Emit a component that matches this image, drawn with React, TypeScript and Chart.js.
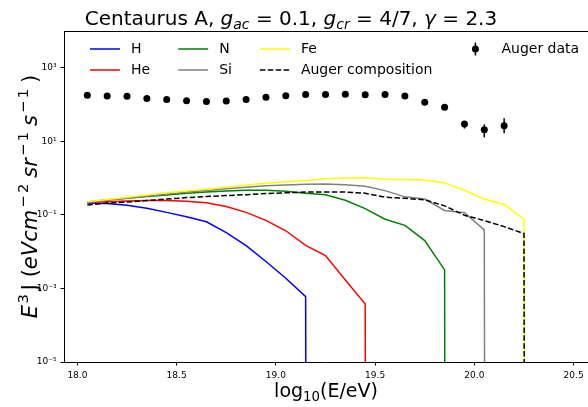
import React, { useEffect, useRef } from "react";
import { Chart, registerables } from "chart.js";

Chart.register(...registerables);

// ---- data ----
const binCenters = [
  18.05, 18.15, 18.25, 18.35, 18.45, 18.55, 18.65, 18.75, 18.85, 18.95,
  19.05, 19.15, 19.25, 19.35, 19.45, 19.55, 19.65, 19.75, 19.85, 19.95,
  20.05, 20.15, 20.25, 20.35, 20.45,
];

const hFlux = [
  0.209, 0.204, 0.182, 0.151, 0.117, 0.089, 0.065, 0.033, 0.0145, 0.0054,
  0.0019, 0.0006, 0, 0, 0, 0, 0, 0, 0, 0, 0, 0, 0, 0, 0,
];
const heFlux = [
  0.219, 0.229, 0.24, 0.245, 0.245, 0.234, 0.214, 0.17, 0.117, 0.071,
  0.037, 0.0148, 0.0078, 0.0017, 0.00038, 0, 0, 0, 0, 0, 0, 0, 0, 0, 0,
];
const nFlux = [
  0.224, 0.257, 0.282, 0.316, 0.347, 0.389, 0.42, 0.447, 0.468, 0.468,
  0.437, 0.389, 0.355, 0.251, 0.148, 0.076, 0.052, 0.02, 0.0032, 0, 0, 0, 0, 0, 0,
];
const siFlux = [
  0.221, 0.251, 0.282, 0.324, 0.363, 0.417, 0.457, 0.513, 0.562, 0.617,
  0.646, 0.676, 0.692, 0.661, 0.603, 0.457, 0.309, 0.269, 0.132, 0.115,
  0.039, 0, 0, 0, 0,
];
const feFlux = [
  0.229, 0.263, 0.302, 0.347, 0.398, 0.447, 0.501, 0.562, 0.646, 0.724,
  0.794, 0.851, 0.955, 1.0, 1.03, 0.933, 0.912, 0.891, 0.741, 0.468,
  0.269, 0.191, 0.076, 0, 0,
];
const augerCompFlux = [
  0.186, 0.209, 0.224, 0.245, 0.269, 0.295, 0.316, 0.335, 0.355, 0.38,
  0.398, 0.417, 0.422, 0.417, 0.389, 0.302, 0.282, 0.257, 0.176, 0.098,
  0.07, 0.048, 0.031, 0, 0,
];

const augerX = [
  18.05, 18.15, 18.25, 18.35, 18.45, 18.55, 18.65, 18.75, 18.85, 18.95,
  19.05, 19.15, 19.25, 19.35, 19.45, 19.55, 19.65, 19.75, 19.85, 19.95,
  20.05, 20.15,
];
const augerFlux = [
  178, 171, 167, 147, 138, 127, 122, 125, 138, 157,
  174, 189, 189, 191, 185, 189, 171, 115, 84, 29.6,
  20.7, 26.7,
];
const augerErrLow: (number | null)[] = [
  null, null, null, null, null, null, null, null, null, null,
  null, null, null, null, null, null, null, null, null, 22.3,
  12.9, 16.5,
];
const augerErrHigh: (number | null)[] = [
  null, null, null, null, null, null, null, null, null, null,
  null, null, null, null, null, null, null, null, null, 32,
  29.0, 42.2,
];

const xTickValues = [18.0, 18.5, 19.0, 19.5, 20.0, 20.5];
const yTickValues = [1e-5, 1e-3, 1e-1, 1e1, 1e3];
const yTickLabels = ["10\u207B\u2075", "10\u207B\u00B3", "10\u207B\u00B9", "10\u00B9", "10\u00B3"];

const seriesLabels = ["H", "He", "N", "Si", "Fe", "Auger composition"];
const seriesColors = ["#0000ff", "#ff0000", "#008000", "#808080", "#ffff00", "#000000"];
const seriesFlux = [hFlux, heFlux, nFlux, siFlux, feFlux, augerCompFlux];
const augerDataLabel = "Auger data";

const ZERO_FLOOR = 1e-300; // matplotlib clips non-positive values on log axes
const FONT = '"DejaVu Sans", sans-serif';

type Part = { t: string; size: number; italic?: boolean; dy?: number; gap?: number };
const fontOf = (p: Part) => `${p.italic ? "italic " : ""}${p.size}px ${FONT}`;
function partsWidth(ctx: CanvasRenderingContext2D, parts: Part[]) {
  let w = 0;
  for (const p of parts) {
    ctx.font = fontOf(p);
    w += ctx.measureText(p.t).width + (p.gap || 0);
  }
  return w;
}
function drawParts(ctx: CanvasRenderingContext2D, parts: Part[], x: number, y: number) {
  let cx = x;
  for (const p of parts) {
    ctx.font = fontOf(p);
    ctx.fillText(p.t, cx, y + (p.dy || 0));
    cx += ctx.measureText(p.t).width + (p.gap || 0);
  }
}

const TS = 20;
const titleParts: Part[] = [
  { t: "Centaurus A, ", size: TS },
  { t: "g", size: TS, italic: true },
  { t: "ac", size: TS * 0.7, italic: true, dy: 4 },
  { t: " = 0.1, ", size: TS },
  { t: "g", size: TS, italic: true },
  { t: "cr", size: TS * 0.7, italic: true, dy: 4 },
  { t: " = 4/7, ", size: TS },
  { t: "\u03B3", size: TS, italic: true },
  { t: " = 2.3", size: TS },
];
const LS = 19;
const xLabelParts: Part[] = [
  { t: "log", size: LS },
  { t: "10", size: LS * 0.7, dy: 4 },
  { t: "(E/eV)", size: LS },
];
const YS = 21;
const SUP = YS * 0.7;
const SUPDY = -9;
const yLabelParts: Part[] = [
  { t: "E", size: YS, italic: true, gap: 1.5 },
  { t: "3", size: SUP, dy: SUPDY, gap: 4 },
  { t: "J (", size: YS },
  { t: "eVcm", size: YS, italic: true, gap: 2 },
  { t: "\u2212", size: SUP, dy: SUPDY, gap: 2.5 },
  { t: "2", size: SUP, dy: SUPDY, gap: 6 },
  { t: "sr", size: YS, italic: true, gap: 2 },
  { t: "\u2212", size: SUP, dy: SUPDY, gap: 2.5 },
  { t: "1", size: SUP, dy: SUPDY, gap: 6 },
  { t: "s", size: YS, italic: true, gap: 2 },
  { t: "\u2212", size: SUP, dy: SUPDY, gap: 2.5 },
  { t: "1", size: SUP, dy: SUPDY, gap: 6 },
  { t: ")", size: YS },
];

const decorPlugin = {
  id: "decor",
  afterDatasetsDraw(chart: any) {
    const ctx: CanvasRenderingContext2D = chart.ctx;
    const xs = chart.scales.x;
    const ys = chart.scales.y;
    const area = chart.chartArea;
    ctx.save();
    ctx.strokeStyle = "#000";
    ctx.lineWidth = 1.5;
    augerX.forEach((x, i) => {
      const lo = augerErrLow[i];
      const hi = augerErrHigh[i];
      if (lo == null || hi == null) return;
      const px = xs.getPixelForValue(x);
      ctx.beginPath();
      ctx.moveTo(px, ys.getPixelForValue(lo));
      ctx.lineTo(px, ys.getPixelForValue(hi));
      ctx.stroke();
    });
    ctx.lineWidth = 1;
    ctx.beginPath();
    ctx.moveTo(area.left, area.top + 0.5);
    ctx.lineTo(area.right, area.top + 0.5);
    ctx.stroke();
    ctx.restore();
  },
  afterDraw(chart: any) {
    const ctx: CanvasRenderingContext2D = chart.ctx;
    const area = chart.chartArea;
    ctx.save();
    ctx.fillStyle = "#000";
    ctx.textBaseline = "alphabetic";
    ctx.textAlign = "left";
    const tw = partsWidth(ctx, titleParts);
    drawParts(ctx, titleParts, 291 - tw / 2, 25);
    const xw = partsWidth(ctx, xLabelParts);
    drawParts(ctx, xLabelParts, (area.left + area.right) / 2 - xw / 2, 397);
    const yw = partsWidth(ctx, yLabelParts);
    ctx.save();
    ctx.translate(37, (area.top + area.bottom) / 2);
    ctx.rotate(-Math.PI / 2);
    drawParts(ctx, yLabelParts, -yw / 2, 0);
    ctx.restore();

    const entries: any[] = chart.data.datasets
      .slice()
      .sort((a: any, b: any) => a.legendIndex - b.legendIndex);
    const rows = 2;
    const handleLen = 30;
    const handlePad = 11;
    const colSpacing = 28;
    const rowY = [49, 70];
    let colX = 90;
    for (let c = 0; c * rows < entries.length; c++) {
      let maxW = 0;
      for (let r = 0; r < rows; r++) {
        const e = entries[c * rows + r];
        if (!e) continue;
        const y = rowY[r];
        if (e.isAugerData) {
          const cx = colX + handleLen / 2;
          ctx.strokeStyle = "#000";
          ctx.lineWidth = 1.5;
          ctx.setLineDash([]);
          ctx.beginPath();
          ctx.moveTo(cx, y - 6.5);
          ctx.lineTo(cx, y + 6.5);
          ctx.stroke();
          ctx.beginPath();
          ctx.arc(cx, y, 3.5, 0, Math.PI * 2);
          ctx.fillStyle = "#000";
          ctx.fill();
        } else {
          ctx.strokeStyle = e.borderColor;
          ctx.lineWidth = e.borderWidth;
          ctx.setLineDash(e.borderDash || []);
          ctx.beginPath();
          ctx.moveTo(colX, y);
          ctx.lineTo(colX + handleLen, y);
          ctx.stroke();
          ctx.setLineDash([]);
        }
        ctx.fillStyle = "#000";
        ctx.font = `14px ${FONT}`;
        ctx.textBaseline = "middle";
        ctx.fillText(e.label, colX + handleLen + handlePad, y + 0.5);
        maxW = Math.max(maxW, ctx.measureText(e.label).width);
      }
      colX += handleLen + handlePad + maxW + colSpacing;
    }
    ctx.restore();
  },
};

export default function App() {
  const canvasRef = useRef<HTMLCanvasElement | null>(null);

  useEffect(() => {
    document.body.style.margin = "0";
    document.body.style.overflow = "hidden";
    const canvas = canvasRef.current;
    if (!canvas) return;

    const lineSets = seriesLabels.map((label, i) => ({
      label,
      legendIndex: i,
      data: binCenters.map((x, j) => ({ x, y: seriesFlux[i][j] > 0 ? seriesFlux[i][j] : ZERO_FLOOR })),
      borderColor: seriesColors[i],
      backgroundColor: seriesColors[i],
      borderWidth: 1.5,
      borderDash: label === "Auger composition" ? [5.5, 2.4] : [],
      pointRadius: 0,
      fill: false,
      tension: 0,
      order: 10 - i,
    }));
    const dataSet = {
      label: augerDataLabel,
      legendIndex: 6,
      isAugerData: true,
      data: augerX.map((x, j) => ({ x, y: augerFlux[j] })),
      showLine: false,
      pointRadius: 3.5,
      pointBackgroundColor: "#000",
      pointBorderColor: "#000",
      pointBorderWidth: 0,
      borderColor: "#000",
      backgroundColor: "#000",
      order: 0,
    };

    const chart = new Chart(canvas, {
      type: "line",
      data: { datasets: [...lineSets, dataSet] as any },
      options: {
        animation: false,
        responsive: false,
        maintainAspectRatio: false,
        devicePixelRatio: 1,
        layout: { padding: { top: 31, left: 0, right: 0, bottom: 0 } },
        plugins: {
          legend: { display: false },
          title: { display: false },
          tooltip: { enabled: false },
        },
        scales: {
          x: {
            type: "linear",
            min: 17.9325,
            max: 20.5725,
            afterBuildTicks: (s: any) => {
              s.ticks = xTickValues.map((v) => ({ value: v }));
            },
            afterFit: (s: any) => {
              s.height = 45;
            },
            ticks: {
              callback: (v: any) => Number(v).toFixed(1),
              font: { family: FONT, size: 9 },
              color: "#000",
              maxRotation: 0,
              autoSkip: false,
              padding: 5,
            },
            grid: { drawOnChartArea: false, tickLength: 3.5, color: "#000", tickWidth: 1 },
            border: { color: "#000", width: 1 },
          },
          y: {
            type: "logarithmic",
            min: 1e-5,
            max: 1e4,
            afterBuildTicks: (s: any) => {
              s.ticks = yTickValues.map((v) => ({ value: v }));
            },
            afterFit: (s: any) => {
              s.width = 64;
            },
            ticks: {
              callback: (v: any) => {
                const k = yTickValues.indexOf(Number(v));
                return k >= 0 ? yTickLabels[k] : "";
              },
              font: { family: FONT, size: 9 },
              color: "#000",
              autoSkip: false,
              padding: 4,
            },
            grid: { drawOnChartArea: false, tickLength: 3.5, color: "#000", tickWidth: 1 },
            border: { color: "#000", width: 1 },
          },
        },
      } as any,
      plugins: [decorPlugin],
    });
    return () => chart.destroy();
  }, []);

  return (
    <div style={{ position: "absolute", left: 0, top: 0, width: 592, height: 407, background: "#fff" }}>
      <canvas ref={canvasRef} width={592} height={407} style={{ display: "block", width: 592, height: 407 }} />
    </div>
  );
}
